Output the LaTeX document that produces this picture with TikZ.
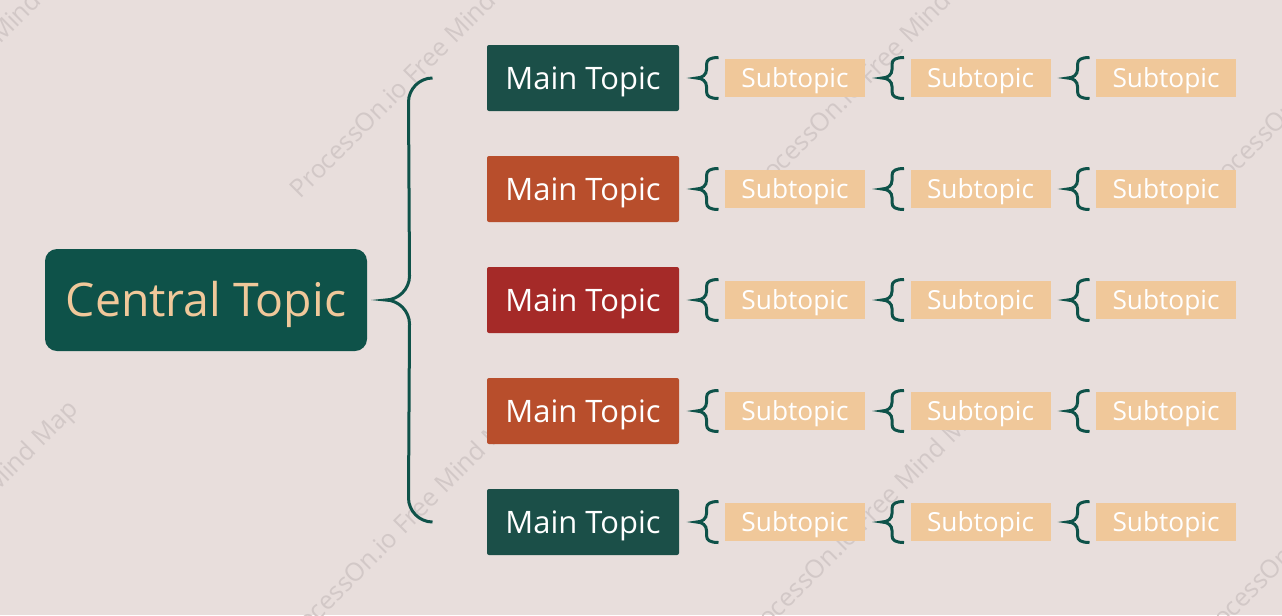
\documentclass[tikz,border=0pt]{standalone}
\usepackage{fontspec}
\setmainfont{Open Sans}
\usetikzlibrary{calc}

\definecolor{paper}{HTML}{E8DEDC}
\definecolor{inkgreen}{HTML}{0E5249}
\definecolor{peach}{HTML}{F0C89A}
\definecolor{mtgreen}{HTML}{1B4F48}
\definecolor{mtorange}{HTML}{B84E2C}
\definecolor{mtred}{HTML}{A52A28}
\definecolor{wmgray}{HTML}{D2C8C7}

\tikzset{every picture/.style={line width=0.75pt}}
\tikzset{
  centralbox/.style={fill=inkgreen, text=peach, rounded corners=9pt, minimum width=241.5pt, minimum height=76.5pt, inner sep=0pt, text height=25pt, text depth=0pt, font=\fontsize{34.8}{40}\selectfont},
  mainbox/.style={text=white, rounded corners=1.5pt, minimum width=144pt, minimum height=49.5pt, inner sep=0pt, text height=16.6pt, text depth=0pt, font=\fontsize{23.2}{27}\selectfont},
  subbox/.style={fill=peach, text=white, minimum width=105pt, minimum height=28.5pt, inner sep=0pt, text height=14.1pt, text depth=0pt, font=\fontsize{19.7}{24}\selectfont},
  bracepen/.style={draw=inkgreen, line width=2.25pt},
  watermark/.style={text=wmgray, anchor=base west, rotate=45, inner sep=0pt, font=\fontsize{19}{23}\selectfont}
}

% small curly brace in front of a subtopic
\newcommand{\subbrace}[1]{%
\draw[bracepen] ($(#1.west)+(-6,-20.5)$) .. controls +(-8,0) and +(0,-5) .. ($(#1.west)+(-18,-13.5)$) -- ($(#1.west)+(-18,-8.5)$) .. controls +(0,5) and +(6,0) .. ($(#1.west)+(-28,0)$) .. controls +(6,0) and +(0,-5) .. ($(#1.west)+(-18,8.5)$) -- ($(#1.west)+(-18,13.5)$) .. controls +(0,5) and +(-8,0) .. ($(#1.west)+(-6,20.5)$);}

\begin{document}
\begin{tikzpicture}[x=0.75pt,y=0.75pt,yscale=-1,xscale=1]
%set diagram to 1282 x 615
\path[use as bounding box, fill=paper] (0,0) rectangle (1282,615);
\clip (0,0) rectangle (1282,615);
% Watermark
\node[watermark] (wm1) at (-155,200) {ProcessOn.io Free Mind Map};
\node[watermark] (wm2) at (300,200) {ProcessOn.io Free Mind Map};
\node[watermark] (wm3) at (755,200) {ProcessOn.io Free Mind Map};
\node[watermark] (wm4) at (1210,200) {ProcessOn.io Free Mind Map};
\node[watermark] (wm5) at (-160,650) {ProcessOn.io Free Mind Map};
\node[watermark] (wm6) at (290,650) {ProcessOn.io Free Mind Map};
\node[watermark] (wm7) at (750,647) {ProcessOn.io Free Mind Map};
\node[watermark] (wm8) at (1205,647) {ProcessOn.io Free Mind Map};
% Central Topic
\node[centralbox] (central) at (206,300) {Central Topic};
% Main Topic
\node[mainbox, fill=mtgreen] (mt1) at (583,78) {Main Topic};
% Main Topic
\node[mainbox, fill=mtorange] (mt2) at (583,189) {Main Topic};
% Main Topic
\node[mainbox, fill=mtred] (mt3) at (583,300) {Main Topic};
% Main Topic
\node[mainbox, fill=mtorange] (mt4) at (583,411) {Main Topic};
% Main Topic
\node[mainbox, fill=mtgreen] (mt5) at (583,522) {Main Topic};
% Subtopics, row 1
\node[subbox] (st1a) at (795,78) {Subtopic};
\node[subbox] (st1b) at (980.5,78) {Subtopic};
\node[subbox] (st1c) at (1166,78) {Subtopic};
% Subtopics, row 2
\node[subbox] (st2a) at (795,189) {Subtopic};
\node[subbox] (st2b) at (980.5,189) {Subtopic};
\node[subbox] (st2c) at (1166,189) {Subtopic};
% Subtopics, row 3
\node[subbox] (st3a) at (795,300) {Subtopic};
\node[subbox] (st3b) at (980.5,300) {Subtopic};
\node[subbox] (st3c) at (1166,300) {Subtopic};
% Subtopics, row 4
\node[subbox] (st4a) at (795,411) {Subtopic};
\node[subbox] (st4b) at (980.5,411) {Subtopic};
\node[subbox] (st4c) at (1166,411) {Subtopic};
% Subtopics, row 5
\node[subbox] (st5a) at (795,522) {Subtopic};
\node[subbox] (st5b) at (980.5,522) {Subtopic};
\node[subbox] (st5c) at (1166,522) {Subtopic};
% Big brace from Central Topic to Main Topics
\coordinate (brace top) at ($(mt1.west)+(-54,0)$);
\coordinate (brace bottom) at ($(mt5.west)+(-54,0)$);
\coordinate (brace tip) at ($(central.east)+(18,0)$);
\draw[bracepen] (brace top) .. controls +(-13,0) and +(0,-13) .. ++(-24,24) -- ($(brace tip)+(24,-24)$) .. controls +(0,13) and +(13,0) .. (brace tip) .. controls +(13,0) and +(0,-13) .. ($(brace tip)+(24,24)$) -- ($(brace bottom)+(-24,-24)$) .. controls +(0,13) and +(-13,0) .. (brace bottom);
% Small braces
\subbrace{st1a} \subbrace{st1b} \subbrace{st1c}
\subbrace{st2a} \subbrace{st2b} \subbrace{st2c}
\subbrace{st3a} \subbrace{st3b} \subbrace{st3c}
\subbrace{st4a} \subbrace{st4b} \subbrace{st4c}
\subbrace{st5a} \subbrace{st5b} \subbrace{st5c}
\end{tikzpicture}
\end{document}
